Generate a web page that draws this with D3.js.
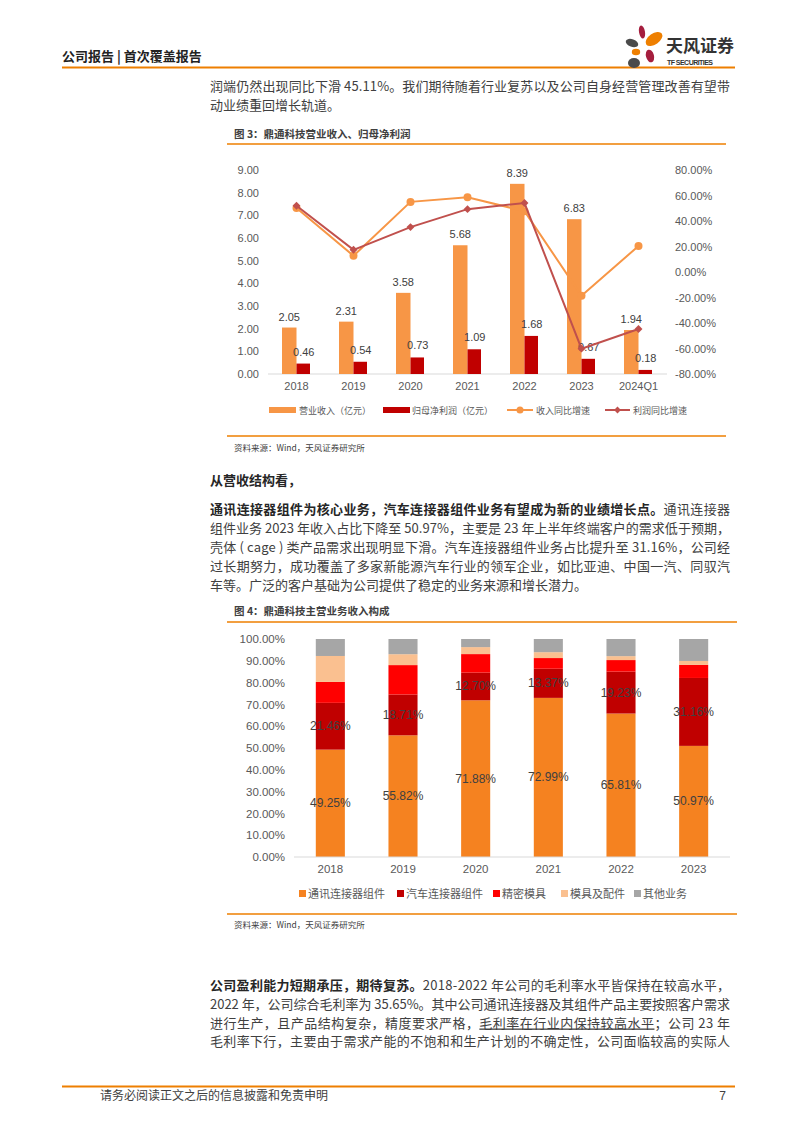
<!DOCTYPE html>
<html><head><meta charset="utf-8">
<script src="https://cdn.jsdelivr.net/npm/d3@7"></script>
<style>body{margin:0;background:#fff} svg{display:block}</style>
</head><body><svg id="page" width="794" height="1123"></svg>
<script>
// ---------- Chart 3 data ----------
const years1 = ["2018","2019","2020","2021","2022","2023","2024Q1"];
const revenue = [2.05,2.31,3.58,5.68,8.39,6.83,1.94];
const netProfit = [0.46,0.54,0.73,1.09,1.68,0.67,0.18];
const revenueGrowth = [50.2,12.7,55.0,58.7,47.7,-18.6,20.4];
const profitGrowth = [52.0,17.4,35.2,49.3,54.1,-60.1,-44.7];
const leftTicks = [0,1,2,3,4,5,6,7,8,9];
const rightTicks = [-80,-60,-40,-20,0,20,40,60,80];
const legend1 = ["营业收入（亿元）","归母净利润（亿元）","收入同比增速","利润同比增速"];

// ---------- Chart 4 data ----------
const years2 = ["2018","2019","2020","2021","2022","2023"];
const segNames = ["通讯连接器组件","汽车连接器组件","精密模具","模具及配件","其他业务"];
const commShare = [49.25,55.82,71.88,72.99,65.81,50.97];
const autoShare = [21.46,18.71,12.70,13.37,19.23,31.16];
const moldShare = [9.6,13.5,8.5,4.9,5.3,6.0];
const partsShare = [11.9,5.0,3.2,2.7,1.8,1.8];
const otherShare = [7.79,6.97,3.72,6.04,7.86,10.07];
const pctTicks = [0,10,20,30,40,50,60,70,80,90,100];

const svg = d3.select("#page");
const CJK = "'Noto Sans CJK SC','Noto Sans',sans-serif";
const LAT = "'Liberation Sans',Arial,sans-serif";
const ORANGE_LINE = "#EE7F00";

// ---------- helpers ----------
function textLine(x, y, parts, opts = {}) {
  const t = svg.append("text").attr("x", x).attr("y", y)
    .style("font-family", CJK).style("font-size", (opts.size || 13) + "px")
    .attr("fill", opts.color || "#404040");
  let n = 0;
  parts.forEach(p => {
    const s = t.append("tspan").text(p.t);
    if (p.b) s.style("font-weight", "bold").attr("fill", "#262626");
    if (p.u) s.style("text-decoration", "underline");
    n += p.t.length;
  });
  if (opts.width) {
    const w = t.node().getComputedTextLength();
    const ls = (opts.width - w) / (n - 1);
    t.style("letter-spacing", ls + "px");
  }
  return t;
}
function hline(x1, x2, y, color, w) {
  svg.append("line").attr("x1", x1).attr("x2", x2).attr("y1", y).attr("y2", y)
    .attr("stroke", color).attr("stroke-width", w || 1.5);
}

// ---------- header ----------
svg.append("text").attr("x", 62).attr("y", 61).text("公司报告 | 首次覆盖报告")
  .style("font-family", CJK).style("font-size", "13px").style("font-weight", "bold").attr("fill", "#222");
hline(62, 735, 67.5, ORANGE_LINE, 2);
// logo
const logo = svg.append("g");
[[642,32,3,6.5,-10,"#A51E3E"],[654,39,9.5,5.5,-35,ORANGE_LINE],[632,43,6.5,3.8,20,"#4A4A4A"],
 [636,52,4.2,3.2,0,ORANGE_LINE],[650,56,4,6.5,-15,"#A51E3E"],[634,63,6,5,0,"#4A4A4A"]]
 .forEach(e => logo.append("ellipse").attr("cx", e[0]).attr("cy", e[1]).attr("rx", e[2]).attr("ry", e[3])
   .attr("transform", `rotate(${e[4]},${e[0]},${e[1]})`).attr("fill", e[5]));
svg.append("text").attr("x", 666).attr("y", 52).text("天风证券")
  .style("font-family", CJK).style("font-size", "17px").style("font-weight", "bold").attr("fill", "#333");
svg.append("text").attr("x", 667).attr("y", 64.5).text("TF SECURITIES").attr("textLength", 46)
  .style("font-family", LAT).style("font-size", "7px").style("font-weight", "bold").attr("fill", "#333");

// ---------- paragraph 1 ----------
const TX = 210, TW = 520;
textLine(TX, 91, [{t:"润端仍然出现同比下滑 45.11%。我们期待随着行业复苏以及公司自身经营管理改善有望带"}], {width: TW});
textLine(TX, 110, [{t:"动业绩重回增长轨道。"}]);

// ---------- Chart 3 ----------
svg.append("text").attr("x", 234).attr("y", 138).text("图 3：鼎通科技营业收入、归母净利润")
  .style("font-family", CJK).style("font-size", "10.5px").style("font-weight", "bold").attr("fill", "#404040");
hline(227, 726, 144, ORANGE_LINE, 1.5);

const x1 = d3.scaleBand().domain(years1).range([268, 667]);
const yL = d3.scaleLinear().domain([0, 9]).range([374, 170]);
const yR = d3.scaleLinear().domain([-80, 80]).range([374, 170]);
const c1 = d => x1(d) + x1.bandwidth() / 2;

const g1 = svg.append("g");
const axL = g1.append("g").attr("transform", "translate(268,0)")
  .call(d3.axisLeft(yL).tickValues(leftTicks).tickFormat(d3.format(".2f")).tickSize(0).tickPadding(9));
const axR = g1.append("g").attr("transform", "translate(675,0)")
  .call(d3.axisRight(yR).tickValues(rightTicks).tickFormat(d => d.toFixed(2) + "%").tickSize(0).tickPadding(0));
const axX = g1.append("g").attr("transform", "translate(0,374)")
  .call(d3.axisBottom(x1).tickSize(0).tickPadding(8));
[axL, axR, axX].forEach(a => {
  a.select(".domain").remove();
  a.selectAll("text").style("font-family", LAT).style("font-size", "11px").attr("fill", "#595959");
});
g1.append("line").attr("x1", 268).attr("x2", 667).attr("y1", 374).attr("y2", 374).attr("stroke", "#D9D9D9");

const BW = 14.5;
g1.selectAll(".rev").data(years1).join("rect")
  .attr("x", d => c1(d) - BW).attr("width", BW)
  .attr("y", (d, i) => yL(revenue[i])).attr("height", (d, i) => 374 - yL(revenue[i]))
  .attr("fill", "#F79646");
g1.selectAll(".np").data(years1).join("rect")
  .attr("x", d => c1(d)).attr("width", BW - 1)
  .attr("y", (d, i) => yL(netProfit[i])).attr("height", (d, i) => 374 - yL(netProfit[i]))
  .attr("fill", "#C00000");
const lab = (x, y, s) => g1.append("text").attr("x", x).attr("y", y).attr("text-anchor", "middle").text(s)
  .style("font-family", LAT).style("font-size", "11px").attr("fill", "#404040");
years1.forEach((d, i) => {
  lab(c1(d) - BW / 2, yL(revenue[i]) - 7, revenue[i].toFixed(2));
  lab(c1(d) + BW / 2, yL(netProfit[i]) - 8, netProfit[i].toFixed(2));
});
const line1 = d3.line().x((d, i) => c1(years1[i])).y(d => yR(d));
g1.append("path").attr("d", line1(revenueGrowth)).attr("fill", "none").attr("stroke", "#F79646").attr("stroke-width", 2);
g1.selectAll(".rg").data(revenueGrowth).join("circle")
  .attr("cx", (d, i) => c1(years1[i])).attr("cy", d => yR(d)).attr("r", 4).attr("fill", "#F79646");
g1.append("path").attr("d", line1(profitGrowth)).attr("fill", "none").attr("stroke", "#C0504D").attr("stroke-width", 2);
const diamond = d3.symbol().type(d3.symbolDiamond2).size(40);
g1.selectAll(".pg").data(profitGrowth).join("path").attr("d", diamond)
  .attr("transform", (d, i) => `translate(${c1(years1[i])},${yR(d)})`).attr("fill", "#C0504D");

const lg = svg.append("g").style("font-family", CJK).style("font-size", "9px");
lg.append("rect").attr("x", 269).attr("y", 407).attr("width", 27).attr("height", 6).attr("fill", "#F79646");
lg.append("text").attr("x", 299).attr("y", 413.5).text(legend1[0]).attr("fill", "#595959");
lg.append("rect").attr("x", 383).attr("y", 407).attr("width", 27).attr("height", 6).attr("fill", "#C00000");
lg.append("text").attr("x", 412).attr("y", 413.5).text(legend1[1]).attr("fill", "#595959");
lg.append("line").attr("x1", 507).attr("x2", 533).attr("y1", 410).attr("y2", 410).attr("stroke", "#F79646").attr("stroke-width", 2);
lg.append("circle").attr("cx", 520).attr("cy", 410).attr("r", 3.5).attr("fill", "#F79646");
lg.append("text").attr("x", 536).attr("y", 413.5).text(legend1[2]).attr("fill", "#595959");
lg.append("line").attr("x1", 605).attr("x2", 630).attr("y1", 410).attr("y2", 410).attr("stroke", "#C0504D").attr("stroke-width", 2);
lg.append("path").attr("d", d3.symbol().type(d3.symbolDiamond2).size(30)).attr("transform", "translate(617.5,410)").attr("fill", "#C0504D");
lg.append("text").attr("x", 633).attr("y", 413.5).text(legend1[3]).attr("fill", "#595959");

hline(227, 726, 436, ORANGE_LINE, 1.5);
svg.append("text").attr("x", 234).attr("y", 451).text("资料来源：Wind，天风证券研究所")
  .style("font-family", CJK).style("font-size", "8.5px").attr("fill", "#404040");

// ---------- paragraph 2 ----------
textLine(TX, 485, [{t:"从营收结构看，", b:true}]);
textLine(TX, 514, [{t:"通讯连接器组件为核心业务，汽车连接器组件业务有望成为新的业绩增长点。", b:true},{t:"通讯连接器"}], {width: TW});
textLine(TX, 533, [{t:"组件业务 2023 年收入占比下降至 50.97%，主要是 23 年上半年终端客户的需求低于预期，"}], {width: TW});
textLine(TX, 552, [{t:"壳体 ( cage ) 类产品需求出现明显下滑。汽车连接器组件业务占比提升至 31.16%，公司经"}], {width: TW});
textLine(TX, 571, [{t:"过长期努力，成功覆盖了多家新能源汽车行业的领军企业，如比亚迪、中国一汽、同驭汽"}], {width: TW});
textLine(TX, 590, [{t:"车等。广泛的客户基础为公司提供了稳定的业务来源和增长潜力。"}]);

// ---------- Chart 4 ----------
svg.append("text").attr("x", 234).attr("y", 615).text("图 4：鼎通科技主营业务收入构成")
  .style("font-family", CJK).style("font-size", "10.5px").style("font-weight", "bold").attr("fill", "#404040");
hline(227, 737, 622, ORANGE_LINE, 1.5);

const x2 = d3.scaleBand().domain(years2).range([294, 730]).paddingInner(0.6).paddingOuter(0.3);
const y2 = d3.scaleLinear().domain([0, 100]).range([857, 639]);
const segColors = ["#F58220", "#C00000", "#FF0000", "#FAC090", "#A6A6A6"];
const segData = [commShare, autoShare, moldShare, partsShare, otherShare];
const rows = years2.map((y, i) => {
  const o = {year: y};
  segNames.forEach((n, k) => o[n] = segData[k][i]);
  return o;
});
const stack = d3.stack().keys(segNames)(rows);
const g2 = svg.append("g");
const axL2 = g2.append("g").attr("transform", "translate(294,0)")
  .call(d3.axisLeft(y2).tickValues(pctTicks).tickFormat(d => d.toFixed(2) + "%").tickSize(0).tickPadding(9));
const axX2 = g2.append("g").attr("transform", "translate(0,857)")
  .call(d3.axisBottom(x2).tickSize(0).tickPadding(8));
[axL2, axX2].forEach(a => {
  a.select(".domain").remove();
  a.selectAll("text").style("font-family", LAT).style("font-size", "11.5px").attr("fill", "#595959");
});
stack.forEach((s, k) => {
  g2.selectAll(".s" + k).data(s).join("rect")
    .attr("x", d => x2(d.data.year)).attr("width", x2.bandwidth())
    .attr("y", d => y2(d[1])).attr("height", d => y2(d[0]) - y2(d[1]))
    .attr("fill", segColors[k]);
});
g2.append("line").attr("x1", 294).attr("x2", 730).attr("y1", 857).attr("y2", 857).attr("stroke", "#D9D9D9");
[0, 1].forEach(k => {
  g2.selectAll(".l" + k).data(stack[k]).join("text")
    .attr("x", d => x2(d.data.year) + x2.bandwidth() / 2)
    .attr("y", d => (y2(d[0]) + y2(d[1])) / 2 + 4)
    .attr("text-anchor", "middle").text(d => (d[1] - d[0]).toFixed(2) + "%")
    .style("font-family", LAT).style("font-size", "12px").attr("fill", "#404040");
});
const lg2 = svg.append("g").style("font-family", CJK).style("font-size", "11px");
const lx = [299, 397, 493, 561, 634];
segNames.forEach((n, k) => {
  lg2.append("rect").attr("x", lx[k]).attr("y", 890).attr("width", 7).attr("height", 7).attr("fill", segColors[k]);
  lg2.append("text").attr("x", lx[k] + 9).attr("y", 898).text(n).attr("fill", "#595959");
});
hline(227, 737, 914, ORANGE_LINE, 1.5);
svg.append("text").attr("x", 234).attr("y", 928).text("资料来源：Wind，天风证券研究所")
  .style("font-family", CJK).style("font-size", "8.5px").attr("fill", "#404040");

// ---------- paragraph 3 ----------
textLine(TX, 990, [{t:"公司盈利能力短期承压，期待复苏。", b:true},{t:"2018-2022 年公司的毛利率水平皆保持在较高水平，"}], {width: TW});
textLine(TX, 1009, [{t:"2022 年，公司综合毛利率为 35.65%。其中公司通讯连接器及其组件产品主要按照客户需求"}], {width: TW});
textLine(TX, 1027.5, [{t:"进行生产，且产品结构复杂，精度要求严格，"},{t:"毛利率在行业内保持较高水平", u:true},{t:"；公司 23 年"}], {width: TW});
textLine(TX, 1046, [{t:"毛利率下行，主要由于需求产能的不饱和和生产计划的不确定性，公司面临较高的实际人"}], {width: TW});

// ---------- footer ----------
hline(62, 735, 1086.5, ORANGE_LINE, 2);
svg.append("text").attr("x", 100).attr("y", 1100).text("请务必阅读正文之后的信息披露和免责申明")
  .style("font-family", CJK).style("font-size", "12px").attr("fill", "#404040");
svg.append("text").attr("x", 726).attr("y", 1100).attr("text-anchor", "end").text("7")
  .style("font-family", LAT).style("font-size", "12px").attr("fill", "#404040");
</script></body></html>
